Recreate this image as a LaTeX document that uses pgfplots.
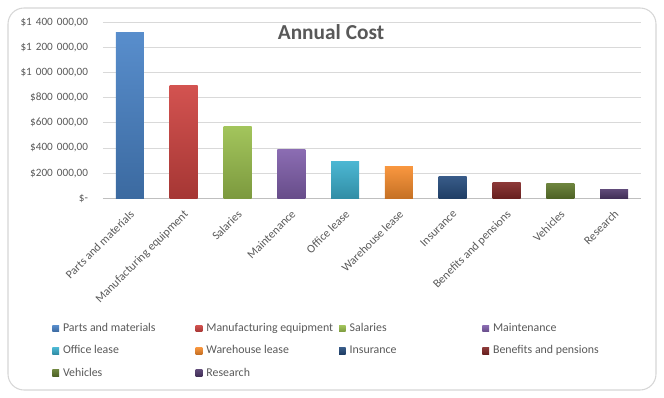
\documentclass[border=0pt]{standalone}
\usepackage{pgfplots}
\pgfplotsset{compat=1.18}
\usepackage{fontspec}
\setmainfont{Carlito}
\definecolor{c1}{HTML}{4A84C8}
\definecolor{c2}{HTML}{CF4441}
\definecolor{c3}{HTML}{9BC04E}
\definecolor{c4}{HTML}{8160AC}
\definecolor{c5}{HTML}{3DB1CF}
\definecolor{c6}{HTML}{F78D2E}
\definecolor{c7}{HTML}{274D7E}
\definecolor{c8}{HTML}{822827}
\definecolor{c9}{HTML}{617A2E}
\definecolor{c10}{HTML}{513A6C}
\definecolor{txt}{HTML}{595959}
\newcommand{\tsp}{\hspace{3pt}}
\begin{document}
\begin{tikzpicture}[x=1pt,y=1pt]
\useasboundingbox (0,0) rectangle (498,298.5);
\draw[draw=black!16, line width=0.8pt, rounded corners=12pt] (6,6) rectangle (492,292.5);
\begin{axis}[
  at={(77.25pt,149.75pt)}, anchor=south west,
  scale only axis, width=403.5pt, height=132pt,
  xmin=-0.5, xmax=9.5, ymin=0, ymax=1400000,
  axis lines*=left,
  y axis line style={draw=none},
  x axis line style={draw=black!25, line width=0.7pt},
  major tick length=0pt,
  ymajorgrids, grid style={draw=black!15, line width=0.7pt},
  scaled y ticks=false,
  ytick={0,200000,400000,600000,800000,1000000,1200000,1400000},
  yticklabels={{\$-\hspace{2pt}},{\$200\tsp000,00},{\$400\tsp000,00},{\$600\tsp000,00},{\$800\tsp000,00},{\$1\tsp000\tsp000,00},{\$1\tsp200\tsp000,00},{\$1\tsp400\tsp000,00}},
  yticklabel style={font=\fontsize{8.4}{10}\selectfont, text=txt, inner sep=1pt, xshift=-10pt},
  xtick={0,1,2,3,4,5,6,7,8,9},
  xticklabels={Parts and materials, Manufacturing equipment, Salaries, Maintenance, Office lease, Warehouse lease, Insurance, Benefits and pensions, Vehicles, Research},
  xticklabel style={font=\fontsize{8.8}{10}\selectfont, text=txt, yshift=-6.5pt, xshift=-0.5pt, rotate=45, anchor=north east, inner sep=1pt},
  every axis plot/.append style={ybar, bar width=21pt, bar shift=0pt, draw=none},
  legend columns=4,
  legend cell align=left,
  legend image code/.code={\path[#1] (0pt,-2.5pt) rectangle (5pt,2.5pt); \path (7pt,0pt);},
  legend style={at={(-0.102,-0.683)}, anchor=north west, draw=none, fill=none,
    font=\fontsize{8.9}{10}\selectfont, text=txt, row sep=6.2pt,
    /tikz/every even column/.append style={column sep=0pt},
    nodes={inner sep=1pt, text height=6.5pt, text depth=2pt}},
]
\addplot[top color=c1!92!white, bottom color=c1!80!black] coordinates {(0,1320000)};
\addlegendentry{\makebox[98.5pt][l]{Parts and materials}}
\addplot[top color=c2!92!white, bottom color=c2!80!black] coordinates {(1,900000)};
\addlegendentry{\makebox[98.5pt][l]{Manufacturing equipment}}
\addplot[top color=c3!92!white, bottom color=c3!80!black] coordinates {(2,575000)};
\addlegendentry{\makebox[98.5pt][l]{Salaries}}
\addplot[top color=c4!92!white, bottom color=c4!80!black] coordinates {(3,390000)};
\addlegendentry{\makebox[98.5pt][l]{Maintenance}}
\addplot[top color=c5!92!white, bottom color=c5!80!black] coordinates {(4,295000)};
\addlegendentry{\makebox[98.5pt][l]{Office lease}}
\addplot[top color=c6!92!white, bottom color=c6!80!black] coordinates {(5,250000)};
\addlegendentry{\makebox[98.5pt][l]{Warehouse lease}}
\addplot[top color=c7!92!white, bottom color=c7!80!black] coordinates {(6,175000)};
\addlegendentry{\makebox[98.5pt][l]{Insurance}}
\addplot[top color=c8!92!white, bottom color=c8!80!black] coordinates {(7,127000)};
\addlegendentry{\makebox[98.5pt][l]{Benefits and pensions}}
\addplot[top color=c9!92!white, bottom color=c9!80!black] coordinates {(8,120000)};
\addlegendentry{\makebox[98.5pt][l]{Vehicles}}
\addplot[top color=c10!92!white, bottom color=c10!80!black] coordinates {(9,70000)};
\addlegendentry{\makebox[98.5pt][l]{Research}}
\end{axis}
\node[font=\fontsize{16}{19}\selectfont\bfseries, text=txt] at (248.25,274.5) {Annual Cost};
\end{tikzpicture}
\end{document}
